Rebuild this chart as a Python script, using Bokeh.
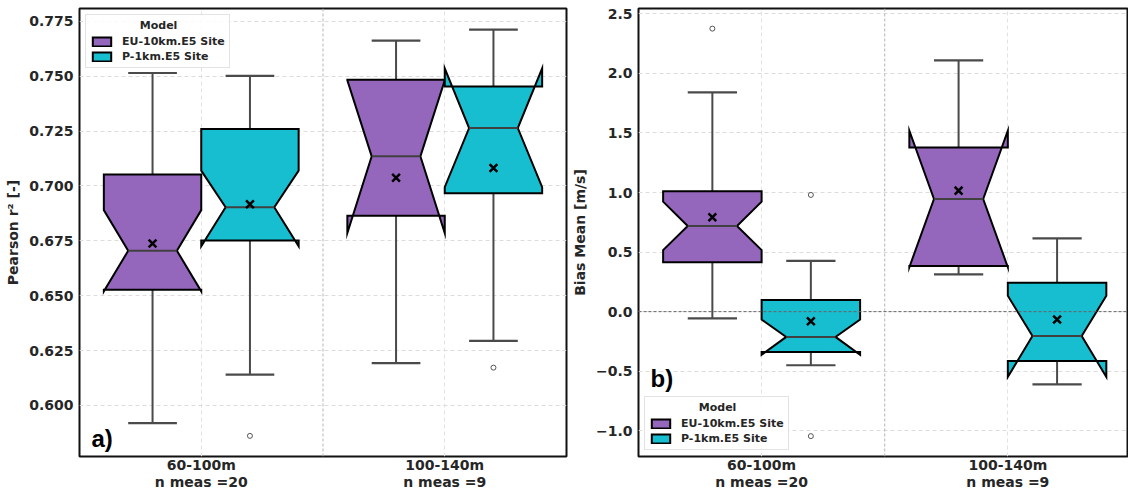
from bokeh.plotting import figure
from bokeh.models import (ColumnDataSource, Legend, LegendItem, Span, Label,
                          FixedTicker, CustomJSTickFormatter, Range1d, LinearAxis)
from bokeh.layouts import row
from bokeh.embed import file_html
from bokeh.resources import INLINE

# ---------------- data ----------------
height_labels = ["60-100m", "100-140m"]
n_labels = ["n meas =20", "n meas =9"]
models = ["EU-10km.E5 Site", "P-1km.E5 Site"]
colors = ["#9467bd", "#17becf"]

# Panel a) Pearson r^2 [-]
r2_eu_q1 = [0.6527, 0.6864]
r2_eu_med = [0.6705, 0.7135]
r2_eu_q3 = [0.7052, 0.7484]
r2_eu_cilo = [0.6520, 0.6785]
r2_eu_cihi = [0.6890, 0.7482]
r2_eu_wlo = [0.5919, 0.6193]
r2_eu_whi = [0.7515, 0.7663]
r2_eu_mean = [0.6738, 0.7038]
r2_eu_out = [[], []]

r2_p_q1 = [0.6752, 0.6967]
r2_p_med = [0.6903, 0.7264]
r2_p_q3 = [0.7260, 0.7454]
r2_p_cilo = [0.6725, 0.6995]
r2_p_cihi = [0.7070, 0.7536]
r2_p_wlo = [0.6140, 0.6294]
r2_p_whi = [0.7502, 0.7713]
r2_p_mean = [0.6917, 0.7082]
r2_p_out = [[0.5861], [0.6172]]

# Panel b) Bias Mean [m/s]
bias_eu_q1 = [0.414, 0.383]
bias_eu_med = [0.719, 0.946]
bias_eu_q3 = [1.010, 1.378]
bias_eu_cilo = [0.517, 0.373]
bias_eu_cihi = [0.924, 1.519]
bias_eu_wlo = [-0.057, 0.313]
bias_eu_whi = [1.841, 2.110]
bias_eu_mean = [0.793, 1.016]
bias_eu_out = [[2.376], []]

bias_p_q1 = [-0.338, -0.414]
bias_p_med = [-0.212, -0.204]
bias_p_q3 = [0.097, 0.242]
bias_p_cilo = [-0.362, -0.548]
bias_p_cihi = [-0.066, 0.133]
bias_p_wlo = [-0.450, -0.610]
bias_p_whi = [0.427, 0.616]
bias_p_mean = [-0.080, -0.066]
bias_p_out = [[0.980, -1.045], []]

r2_ticks = [0.600, 0.625, 0.650, 0.675, 0.700, 0.725, 0.750, 0.775]
bias_ticks = [-1.0, -0.5, 0.0, 0.5, 1.0, 1.5, 2.0, 2.5]

r2_stats = [
    dict(q1=r2_eu_q1, med=r2_eu_med, q3=r2_eu_q3, cilo=r2_eu_cilo, cihi=r2_eu_cihi,
         wlo=r2_eu_wlo, whi=r2_eu_whi, mean=r2_eu_mean, out=r2_eu_out),
    dict(q1=r2_p_q1, med=r2_p_med, q3=r2_p_q3, cilo=r2_p_cilo, cihi=r2_p_cihi,
         wlo=r2_p_wlo, whi=r2_p_whi, mean=r2_p_mean, out=r2_p_out),
]
bias_stats = [
    dict(q1=bias_eu_q1, med=bias_eu_med, q3=bias_eu_q3, cilo=bias_eu_cilo, cihi=bias_eu_cihi,
         wlo=bias_eu_wlo, whi=bias_eu_whi, mean=bias_eu_mean, out=bias_eu_out),
    dict(q1=bias_p_q1, med=bias_p_med, q3=bias_p_q3, cilo=bias_p_cilo, cihi=bias_p_cihi,
         wlo=bias_p_wlo, whi=bias_p_whi, mean=bias_p_mean, out=bias_p_out),
]

FONT = "DejaVu Sans"
TXT = "#262626"
BOX_W = 0.4
OFFSETS = [-0.2, 0.2]


def notch_poly(pos, w, q1, med, q3, cilo, cihi):
    L, R = pos - w / 2, pos + w / 2
    nL, nR = pos - w / 4, pos + w / 4
    xs = [L, R, R, nR, R, R, L, L, nL, L, L]
    ys = [q1, q1, cilo, med, cihi, q3, q3, cihi, med, cilo, q1]
    return xs, ys


def style_axis(ax, size):
    ax.axis_line_color = None
    ax.major_tick_line_color = None
    ax.minor_tick_line_color = None
    ax.major_tick_out = 0
    ax.major_tick_in = 0
    ax.minor_tick_out = 0
    ax.minor_tick_in = 0
    ax.major_label_text_font = FONT
    ax.major_label_text_font_style = "bold"
    ax.major_label_text_color = TXT
    ax.major_label_text_font_size = size


def make_panel(stats, yr, xr_end, ticks, fmt_code, ylabel, width, mleft, mright,
               legend_loc, tag, tag_y):
    p = figure(width=width, height=492, x_range=Range1d(-0.5, xr_end),
               y_range=Range1d(*yr), output_backend="svg", toolbar_location=None,
               min_border_left=mleft, min_border_right=mright, min_border_top=8,
               min_border_bottom=20)
    p.background_fill_color = "white"
    p.border_fill_color = "white"
    p.outline_line_color = "#111111"
    p.outline_line_width = 2

    # axes: first row of x labels (heights), second row (number of measurements)
    xa = p.xaxis[0]
    xa.ticker = FixedTicker(ticks=[0, 1])
    xa.formatter = CustomJSTickFormatter(args=dict(labels=height_labels),
                                         code="return labels[Math.round(tick)];")
    style_axis(xa, "14px")
    xa.major_label_standoff = 0
    xb = LinearAxis(ticker=FixedTicker(ticks=[0, 1]),
                    formatter=CustomJSTickFormatter(args=dict(labels=n_labels),
                                                    code="return labels[Math.round(tick)];"))
    style_axis(xb, "14px")
    xb.major_label_standoff = -2
    p.add_layout(xb, "below")

    ya = p.yaxis[0]
    ya.ticker = FixedTicker(ticks=ticks)
    ya.formatter = CustomJSTickFormatter(code=fmt_code)
    style_axis(ya, "14px")
    ya.major_label_standoff = 6
    ya.axis_label = ylabel
    ya.axis_label_text_font = FONT
    ya.axis_label_text_font_style = "bold"
    ya.axis_label_text_font_size = "14px"
    ya.axis_label_text_color = TXT
    ya.axis_label_standoff = 5

    # grid
    p.ygrid.grid_line_color = "#dcdcdc"
    p.ygrid.grid_line_dash = "4 3"
    p.xgrid.ticker = FixedTicker(ticks=[0, 1])
    p.xgrid.grid_line_color = "#e2e2e2"
    p.xgrid.grid_line_dash = "4 3"
    p.add_layout(Span(location=0.5, dimension="height", line_color="#b5b5b5",
                      line_dash="3 2", line_width=1))

    items = []
    for k, (st, col, name) in enumerate(zip(stats, colors, models)):
        pos = [i + OFFSETS[k] for i in range(len(height_labels))]
        xs, ys = [], []
        for i, ps in enumerate(pos):
            x_, y_ = notch_poly(ps, BOX_W, st["q1"][i], st["med"][i], st["q3"][i],
                                st["cilo"][i], st["cihi"][i])
            xs.append(x_)
            ys.append(y_)
        src = ColumnDataSource(dict(
            pos=pos, q1=st["q1"], q3=st["q3"], med=st["med"], wlo=st["wlo"],
            whi=st["whi"], mean=st["mean"],
            cl=[ps - BOX_W / 4 for ps in pos], cr=[ps + BOX_W / 4 for ps in pos]))
        # whiskers
        p.segment(x0="pos", y0="q3", x1="pos", y1="whi", source=src,
                  line_color="#4a4a4a", line_width=2)
        p.segment(x0="pos", y0="q1", x1="pos", y1="wlo", source=src,
                  line_color="#4a4a4a", line_width=2)
        p.segment(x0="cl", y0="whi", x1="cr", y1="whi", source=src,
                  line_color="#4a4a4a", line_width=2.2)
        p.segment(x0="cl", y0="wlo", x1="cr", y1="wlo", source=src,
                  line_color="#4a4a4a", line_width=2.2)
        # boxes
        r = p.patches(xs=xs, ys=ys, fill_color=col, line_color="black",
                      line_width=2, line_join="miter")
        items.append(LegendItem(label=name, renderers=[r]))
        # medians
        p.segment(x0="cl", y0="med", x1="cr", y1="med", source=src,
                  line_color="#404040", line_width=2)
        # means
        p.scatter(x="pos", y="mean", source=src, marker="x", size=11,
                  line_color="black", line_width=2.5)
        # outliers
        ox, oy = [], []
        for i, ps in enumerate(pos):
            for v in st["out"][i]:
                ox.append(ps)
                oy.append(v)
        if ox:
            p.scatter(x=ox, y=oy, marker="circle", size=5, fill_color="white",
                      line_color="#555555", line_width=1)

    leg = Legend(items=items, location=legend_loc, margin=6,
                 title="\u00a0" * 13 + "Model")
    leg.title_text_font = FONT
    leg.title_text_font_style = "bold"
    leg.title_text_font_size = "11px"
    leg.title_text_color = TXT
    leg.title_standoff = 3
    leg.label_text_font = FONT
    leg.label_text_font_style = "bold"
    leg.label_text_font_size = "11px"
    leg.label_text_color = TXT
    leg.glyph_width = 23
    leg.glyph_height = 11
    leg.label_height = 13
    leg.label_standoff = 9
    leg.spacing = 2
    leg.padding = 4
    leg.border_line_color = "#c8c8c8"
    leg.border_line_width = 1
    leg.background_fill_color = "white"
    leg.background_fill_alpha = 0.85
    p.add_layout(leg)

    p.add_layout(Label(x=12, y=tag_y, x_units="screen", y_units="data", text=tag,
                       text_font="Liberation Sans", text_font_style="bold",
                       text_font_size="24px", text_baseline="middle",
                       text_color="black"))
    return p


p1 = make_panel(r2_stats, (0.5767, 0.7809), 1.5, r2_ticks,
                "return tick.toFixed(3);", "Pearson r\u00b2 [-]", 568, 79, 2,
                "top_left", "a)", 0.585)
p2 = make_panel(bias_stats, (-1.216, 2.545), 1.486, bias_ticks,
                "return (tick < 0 ? '\u2212' : '') + Math.abs(tick).toFixed(1);",
                "Bias Mean [m/s]", 560, 69, 1, "bottom_left", "b)", -0.56)
p2.add_layout(Span(location=0, dimension="width", line_color="#666666",
                   line_dash="3 2", line_width=1))

layout = row(p1, p2)
open("out.html", "w").write(file_html(layout, INLINE))
